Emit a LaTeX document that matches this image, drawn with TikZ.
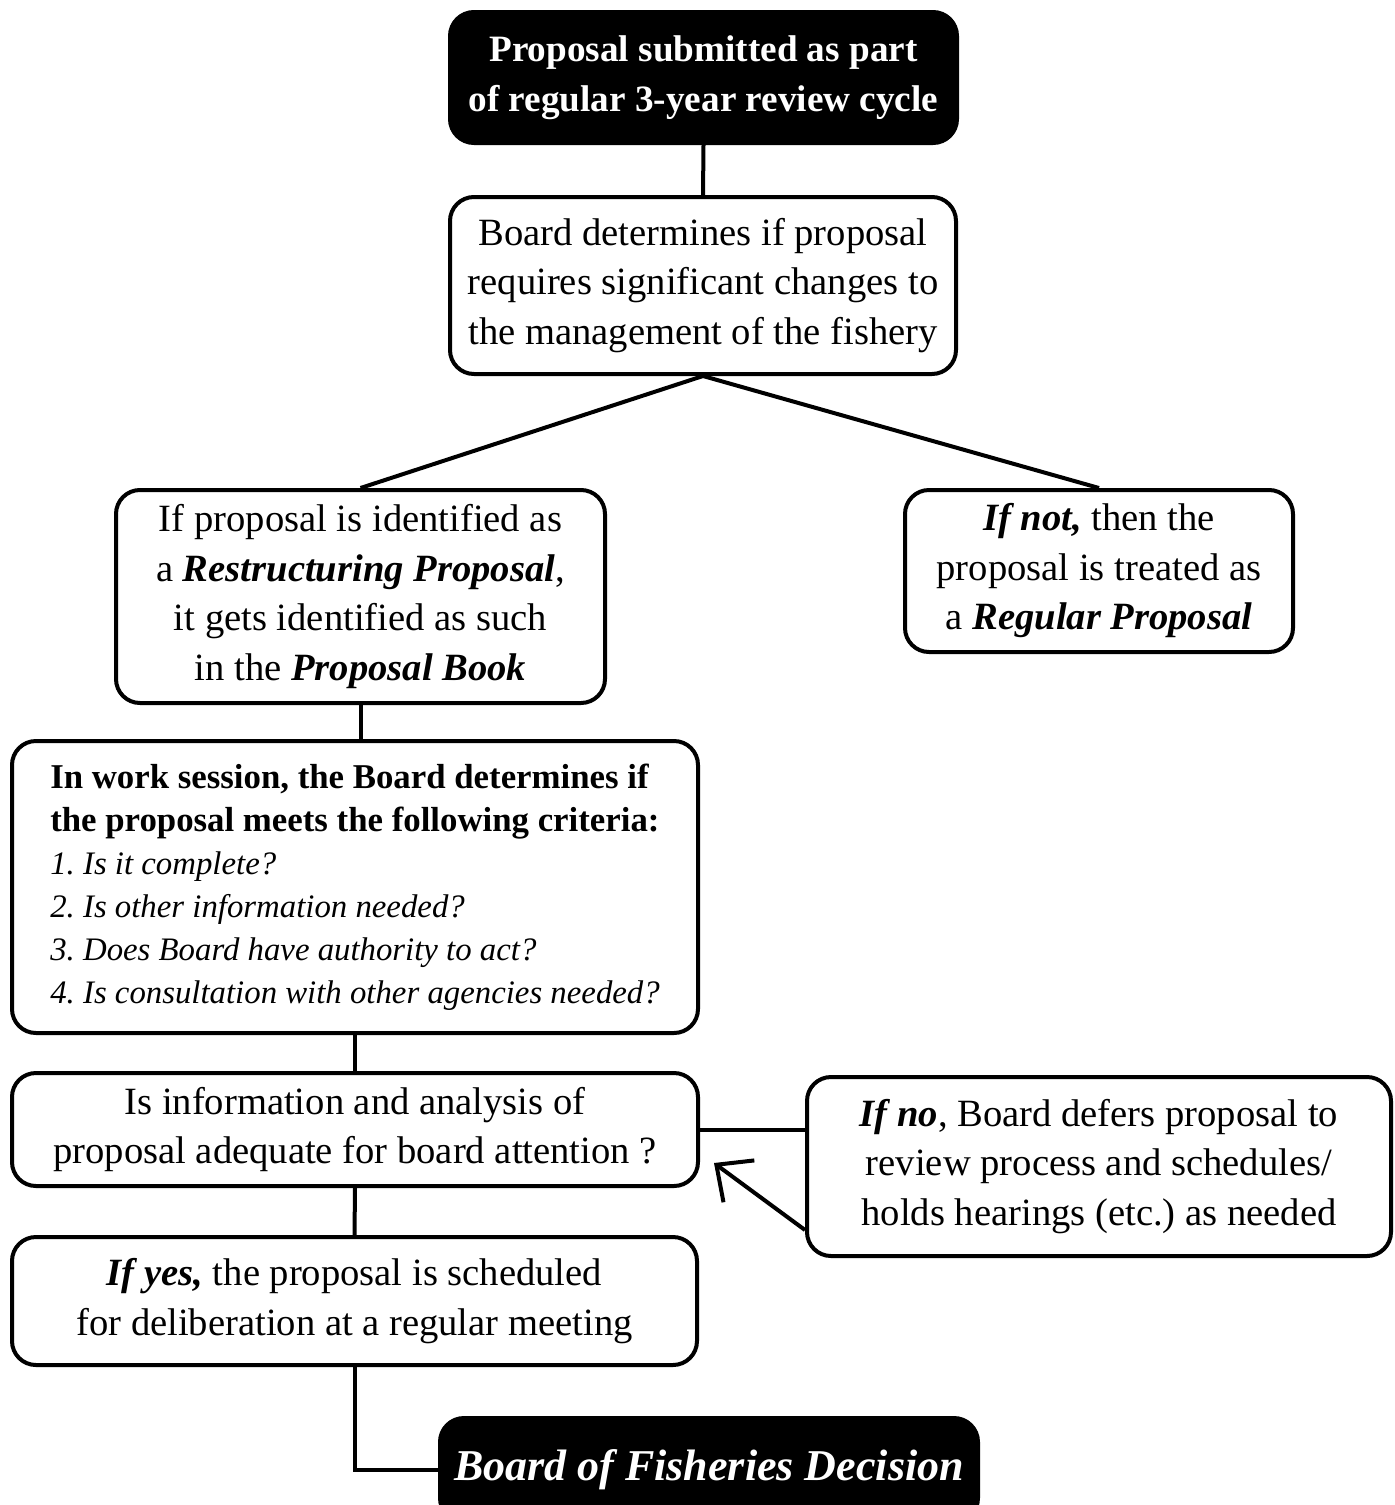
\documentclass[tikz,border=0pt]{standalone}
\usepackage{fontspec}
\setmainfont{Liberation Serif}
\usetikzlibrary{arrows.meta,calc}
\newcommand{\mainsz}{\fontsize{19.3}{24.75}\selectfont}
\newcommand{\topsz}{\fontsize{18.6}{25}\selectfont}
\newcommand{\critsz}{\fontsize{17.4}{21.5}\selectfont}
\newcommand{\itsz}{\fontsize{16.4}{21.5}\selectfont}
\newcommand{\decsz}{\fontsize{22}{26}\selectfont}
\newcommand{\bi}[1]{\textbf{\textit{#1}}}
\frenchspacing
\begin{document}
\frenchspacing
\begin{tikzpicture}[x=0.5pt,y=-0.5pt]
\tikzset{
  box/.style={draw, line width=2pt, rounded corners=12pt, align=center, inner sep=0pt, font=\mainsz},
  dark/.style={box, fill=black, text=white},
  conn/.style={line width=2pt},
  arr/.style={line width=2pt, -{Straight Barb[length=14pt,width=26pt,line width=2pt]}},
}
\clip (0,0) rectangle (1394,1505);
\useasboundingbox (0,0) rectangle (1394,1505);

\node[dark, minimum width=253.5pt, minimum height=65.5pt, font=\topsz\bfseries] (b1) at (703.5,77.5)
  {Proposal submitted as part\\of regular 3-year review cycle};
\node[box, minimum width=253pt, minimum height=88.5pt] (b2) at (703,285.5)
  {Board determines if proposal\\requires significant changes to\\the management of the fishery};
\node[box, minimum width=244.5pt, minimum height=106.5pt] (b3) at (360.5,596.5)
  {If proposal is identified as\\a \bi{Restructuring Proposal},\\it gets identified as such\\in the \bi{Proposal Book}};
\node[box, minimum width=194pt, minimum height=81pt] (b4) at (1099,571)
  {\bi{If not,} then the\\proposal is treated as\\a \bi{Regular Proposal}};
\node[box, minimum width=343pt, minimum height=146pt, align=left, font=\critsz] (b5) at (355,887)
  {\textbf{In work session, the Board determines if}\\
   \textbf{the proposal meets the following criteria:}\\
   {\itsz\itshape 1. Is it complete?}\\
   {\itsz\itshape 2. Is other information needed?}\\
   {\itsz\itshape 3. Does Board have authority to act?}\\
   {\itsz\itshape 4. Is consultation with other agencies needed?}};
\node[box, minimum width=343pt, minimum height=56.5pt] (b6) at (355,1129.5)
  {Is information and analysis of\\proposal adequate for board attention ?};
\node[box, minimum width=292pt, minimum height=89.5pt] (b7) at (1099,1166.5)
  {\bi{If no}, Board defers proposal to\\review process and schedules/\\holds hearings (etc.) as needed};
\node[box, minimum width=342.5pt, minimum height=64pt] (b8) at (354.5,1301)
  {\bi{If yes,} the proposal is scheduled\\for deliberation at a regular meeting};
\node[dark, minimum width=269pt, minimum height=52pt, font=\decsz] (b9) at (709,1470)
  {\bi{Board of Fisheries Decision}};

\coordinate (ahead) at (714,1163);

\draw[conn] (b1.south) -- (b2.north);
\draw[conn] (b2.south) -- (b3.north);
\draw[conn] (b2.south) -- (b4.north);
\draw[conn] (b3.south) -- (b5.north -| b3.south);
\draw[conn] (b5.south) -- (b6.north);
\draw[conn] (b6.east) -- (b7.west |- b6.east);
\draw[arr] ([yshift=14pt]b7.south west) -- (ahead);
\draw[conn] (b6.south) -- (b8.north);
\draw[conn] (b8.south) |- (b9.west);
\end{tikzpicture}
\end{document}
